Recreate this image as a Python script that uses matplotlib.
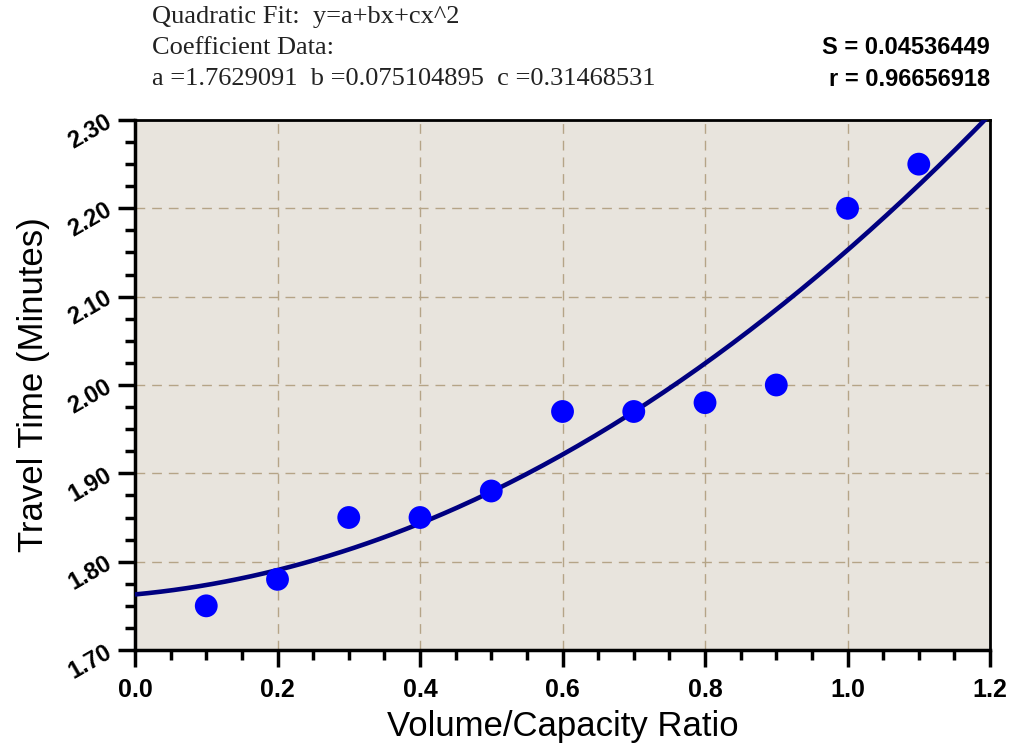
import matplotlib.pyplot as plt
import numpy as np
from matplotlib.ticker import MultipleLocator

# data
vc_ratio = [0.1, 0.2, 0.3, 0.4, 0.5, 0.6, 0.7, 0.8, 0.9, 1.0, 1.1]
travel_time = [1.75, 1.78, 1.85, 1.85, 1.88, 1.97, 1.97, 1.98, 2.00, 2.20, 2.25]
x_ticks = [0.0, 0.2, 0.4, 0.6, 0.8, 1.0, 1.2]
y_ticks = [1.70, 1.80, 1.90, 2.00, 2.10, 2.20, 2.30]

# fit coefficients as printed on the chart
coef_a = 1.7629091
coef_b = 0.075104895
coef_c = 0.31468531
stat_s = 0.04536449
stat_r = 0.96656918

xfit = np.linspace(0, 1.2, 200)
yfit = coef_a + coef_b * xfit + coef_c * xfit ** 2

fig = plt.figure(figsize=(10.12, 7.48), dpi=100)
ax = fig.add_axes([0.1334, 0.131, 0.8449, 0.7086])
ax.set_facecolor('#E8E4DD')

ax.plot(xfit, yfit, color='#000080', linewidth=3.3, zorder=3)
ax.scatter(vc_ratio, travel_time, s=270, color='#0000FF', edgecolors='none', zorder=4)

ax.xaxis.set_minor_locator(MultipleLocator(0.05))
ax.yaxis.set_minor_locator(MultipleLocator(0.025))
ax.set_xticks(x_ticks)
ax.set_xticklabels(['%.1f' % t for t in x_ticks],
                   fontsize=18, fontweight='bold', family='Liberation Sans')
ax.set_yticks(y_ticks)
ax.set_yticklabels(['%.2f' % t for t in y_ticks], fontsize=17, fontweight='bold',
                   family='Liberation Sans', rotation=30, rotation_mode='anchor',
                   ha='right', va='center')
ax.set_xlim(0, 1.2)
ax.set_ylim(1.70, 2.30)
ax.grid(True, which='major', color='#B5A487', linestyle=(0, (7, 5)), linewidth=1)

for side in ['left', 'bottom']:
    ax.spines[side].set_linewidth(2.5)
for side in ['top', 'right']:
    ax.spines[side].set_linewidth(2)

ax.tick_params(which='major', direction='out', length=12, width=2.5)
ax.tick_params(which='minor', direction='out', length=7, width=2.5)
ax.tick_params(axis='x', pad=8)
ax.tick_params(axis='y', pad=6)

ax.set_xlabel('Volume/Capacity Ratio', fontsize=25, family='Liberation Sans', labelpad=6)
ax.set_ylabel('Travel Time (Minutes)', fontsize=25, family='Liberation Sans', labelpad=10)

# header text
hdr = dict(fontsize=19, family='Liberation Serif', va='center', color='#222222')
fig.text(152 / 1012, 1 - 17 / 748, 'Quadratic Fit:  y=a+bx+cx^2', **hdr)
fig.text(152 / 1012, 1 - 48 / 748, 'Coefficient Data:', **hdr)
fig.text(152 / 1012, 1 - 79 / 748,
         'a =%.7f  b =%.9f  c =%.8f' % (coef_a, coef_b, coef_c), **hdr)
fig.text(990 / 1012, 1 - 47 / 748, 'S = %.8f' % stat_s, fontsize=17, fontweight='bold',
         family='Liberation Sans', ha='right', va='center')
fig.text(990 / 1012, 1 - 79 / 748, 'r = %.8f' % stat_r, fontsize=17, fontweight='bold',
         family='Liberation Sans', ha='right', va='center')

fig.savefig('out.png', dpi=100)
